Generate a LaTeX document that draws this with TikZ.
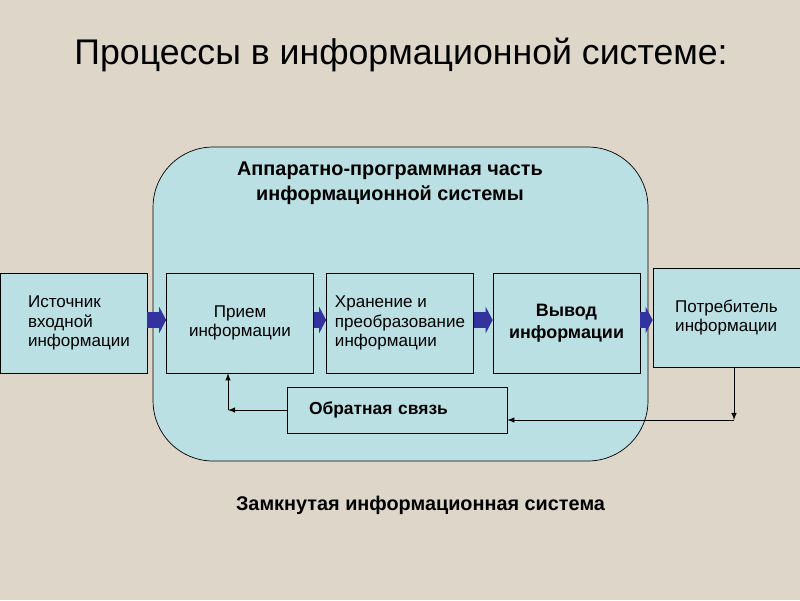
\documentclass[tikz,border=0pt]{standalone}
\usepackage{fontspec}
\setmainfont{Liberation Sans}
\usetikzlibrary{arrows,arrows.meta}
\definecolor{paper}{RGB}{221,214,201}
\definecolor{pale}{RGB}{186,224,228}
\definecolor{navy}{RGB}{51,51,160}

\begin{document}
\begin{tikzpicture}[x=0.02cm,y=-0.02cm,
    box/.style={draw,fill=pale,minimum width=2.94cm,minimum height=2cm,inner sep=0pt},
    txt/.style={font=\fontsize{9.7}{11}\selectfont},
    btxt/.style={font=\bfseries\fontsize{11.3}{14}\selectfont},
    flow/.style={navy,line width=9pt,-{Triangle[length=4pt,width=15pt]}},
    back/.style={-latex,thin}]
  \fill[paper] (0,0) rectangle (800,600);
  \useasboundingbox (0,0) rectangle (800,600);
  \node (title) at (401,55) {\fontsize{20.3}{24}\selectfont Процессы в информационной системе:};
  \node[draw,fill=pale,rounded corners=1.2cm,minimum width=9.9cm,minimum height=6.28cm] (sys) at (400.5,304) {};
  \node[btxt,align=center] (hdr) at (390,183) {Аппаратно-программная часть\\информационной системы};
  \node[box,txt,text width=1.82cm,align=left] (src) at (73.5,323) {Источник\\входной\\информации};
  \node[box,txt,align=center] (priem) at (240,323) {Прием\\информации};
  \node[box,txt,align=left] (stor) at (400,323) {Хранение и\\преобразование\\информации};
  \node[box,align=center,font=\bfseries\fontsize{10.2}{12.5}\selectfont] (vyvod) at (566.5,323) {Вывод\\информации};
  \node[box,txt,align=left,minimum height=1.98cm] (cons) at (726.5,317.5) {Потребитель\\информации};
  \node[draw,fill=pale,minimum width=4.4cm,minimum height=0.92cm,font=\bfseries\fontsize{9.9}{12}\selectfont,text width=3.52cm,align=left] (fb) at (397,410) {Обратная связь};
  \node[btxt] (cap) at (420.5,505) {Замкнутая информационная система};
  % стрелки по цепочке
  \draw[flow] (src.east |- 0,320) -- (priem.west |- 0,320);
  \draw[flow] (priem.east |- 0,320) -- (stor.west |- 0,320);
  \draw[flow] (stor.east |- 0,320) -- (vyvod.west |- 0,320);
  \draw[flow] (vyvod.east |- 0,320) -- (cons.west |- 0,320);
  % обратная связь
  \coordinate (fbl) at (228,410);
  \coordinate (fbr) at (734,420);
  \draw[back] (fb.west) -- (fbl);
  \draw[back] (fbl) -- (fbl |- priem.south);
  \draw[back] (fbr |- cons.south) -- (fbr);
  \draw[back] (fbr) -- (fbr -| fb.east);
\end{tikzpicture}
\end{document}
